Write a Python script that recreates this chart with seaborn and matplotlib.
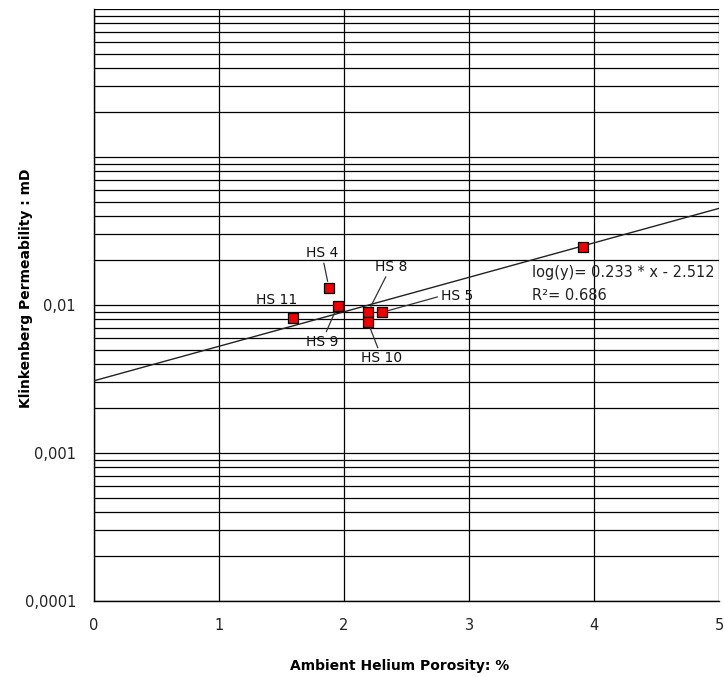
import matplotlib
matplotlib.use("Agg")
import matplotlib.pyplot as plt
import matplotlib.ticker as mticker
import numpy as np
import pandas as pd
import seaborn as sns

# ---- data ----
sample_names = ["HS 4", "HS 9", "HS 11", "HS 8", "HS 5", "HS 10", ""]
porosity = [1.88, 1.95, 1.59, 2.19, 2.30, 2.19, 3.91]
permeability = [0.0130, 0.0099, 0.0082, 0.0089, 0.0089, 0.0077, 0.0247]

fit_slope = 0.233
fit_intercept = -2.512
fit_r2 = 0.686

x_ticks = [0, 1, 2, 3, 4, 5]
y_ticks = [1e-4, 1e-3, 1e-2, 1e-1, 1]
y_tick_labels = ["0,0001", "0,001", "0,01", "", ""]

# label placement (text positions in data coords) and whether a leader line is drawn
label_pos = {
    "HS 4": (1.822, 0.0225, True, "center"),
    "HS 9": (1.822, 0.00562, True, "center"),
    "HS 11": (1.464, 0.0108, False, "center"),
    "HS 8": (2.376, 0.0182, True, "center"),
    "HS 5": (2.774, 0.0115, True, "left"),
    "HS 10": (2.302, 0.00438, True, "center"),
}

df = pd.DataFrame({"name": sample_names, "phi": porosity, "k": permeability})

sns.set_style("white")
plt.rcParams["font.family"] = ["DejaVu Sans"]

fig = plt.figure(figsize=(7.24, 6.77), dpi=100)
ax = fig.add_axes([94 / 724, 1 - 601 / 677, 625 / 724, 592 / 677])

ax.set_yscale("log")
ax.set_xlim(0, 5)
ax.set_ylim(1e-4, 1)

# grid
ax.yaxis.set_major_locator(mticker.FixedLocator(y_ticks))
ax.yaxis.set_major_formatter(mticker.FixedFormatter(y_tick_labels))
ax.yaxis.set_minor_locator(mticker.LogLocator(base=10, subs=np.arange(2, 10), numticks=20))
ax.yaxis.set_minor_formatter(mticker.NullFormatter())
ax.xaxis.set_major_locator(mticker.FixedLocator(x_ticks))
ax.set_xticklabels([str(t) for t in x_ticks])
ax.grid(True, which="major", axis="both", color="black", lw=0.9)
ax.grid(True, which="minor", axis="y", color="black", lw=0.9)
ax.set_axisbelow(True)

for s in ["left", "bottom"]:
    ax.spines[s].set_color("black")
    ax.spines[s].set_linewidth(1.0)
for s in ["top", "right"]:
    ax.spines[s].set_visible(False)

ax.tick_params(axis="both", which="major", direction="out", length=4, width=1,
               color="black", labelsize=10.5, labelcolor="#222222")
ax.tick_params(axis="y", which="major", pad=9)
ax.tick_params(axis="x", which="major", pad=8)
ax.tick_params(axis="both", which="minor", length=0)

# trend line
xs = np.array([0.0, 5.0])
ax.plot(xs, 10 ** (fit_slope * xs + fit_intercept), color="#222222", lw=1.0, zorder=3)

# points
sns.scatterplot(data=df, x="phi", y="k", marker="s", s=42, color="#ee0000",
                edgecolor="black", linewidth=0.9, ax=ax, zorder=5, legend=False)

# labels
for name, xv, yv in zip(sample_names, porosity, permeability):
    if name not in label_pos:
        continue
    tx, ty, leader, ha = label_pos[name]
    if leader:
        ax.annotate(name, xy=(xv, yv), xytext=(tx, ty), ha=ha, va="center",
                    fontsize=10, color="#111111",
                    arrowprops=dict(arrowstyle="-", color="#333333", lw=0.9,
                                    shrinkA=0, shrinkB=5,
                                    relpos=(0.0, 0.5) if ha == "left" else (0.5, 0.5)),
                    zorder=6)
    else:
        ax.text(tx, ty, name, ha=ha, va="center", fontsize=10, color="#111111", zorder=6)

ax.set_xlabel("")
ax.set_ylabel("")

# equation
ax.text(3.506, 10 ** (-2 + (305 - 273) / 148), "log(y)= 0.233 * x - 2.512",
        ha="left", va="center", fontsize=10.5, color="#222222", zorder=6)
ax.text(3.506, 10 ** (-2 + (305 - 296) / 148), "R\u00b2= 0.686",
        ha="left", va="center", fontsize=10.5, color="#222222", zorder=6)

fig.text(400 / 724, 1 - 666 / 677, "Ambient Helium Porosity: %", ha="center", va="center",
         fontsize=10, fontweight="bold", color="black")
fig.text(26 / 724, 1 - 288 / 677, "Klinkenberg Permeability : mD", ha="center", va="center",
         rotation=90, fontsize=10, fontweight="bold", color="black")

fig.savefig("out.png", dpi=100)
